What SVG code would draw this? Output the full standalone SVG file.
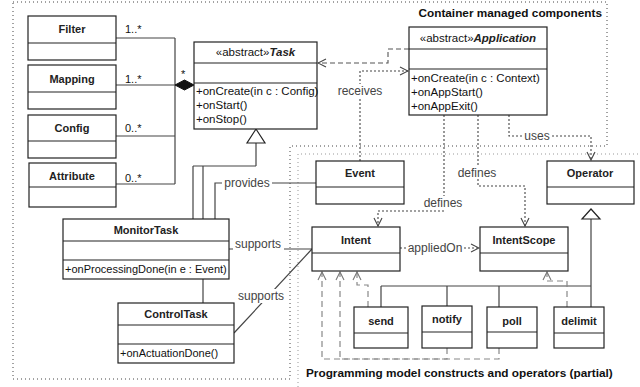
<svg xmlns="http://www.w3.org/2000/svg" width="640" height="387" viewBox="0 0 640 387">
<defs>
<style>
.box{fill:#fff;stroke:#222;stroke-width:1.2}
.div{stroke:#222;stroke-width:1.2}
.cn{font-family:"Liberation Sans",Arial,sans-serif;font-size:11px;font-weight:bold;fill:#222;text-anchor:middle}
.m{font-family:"Liberation Sans",Arial,sans-serif;font-size:11px;fill:#111}
.m2{font-family:"Liberation Sans",Arial,sans-serif;font-size:11.5px;fill:#111}
.lb{font-family:"Liberation Sans",Arial,sans-serif;font-size:12px;fill:#444;text-anchor:middle}
.ttl{font-family:"Liberation Sans",Arial,sans-serif;font-size:11.8px;font-weight:bold;fill:#111}
.ln{fill:none;stroke:#444;stroke-width:1.2}
.dash{fill:none;stroke:#555;stroke-width:1.1;stroke-dasharray:5,3}
.dot{fill:none;stroke:#444;stroke-width:1.1;stroke-dasharray:2,2}
.gdash{fill:none;stroke:#888;stroke-width:1.2;stroke-dasharray:6,4}
.bg{fill:#fff}
</style>
<marker id="open" markerWidth="10" markerHeight="10" refX="9" refY="5" orient="auto" markerUnits="userSpaceOnUse">
<path d="M1,1 L9,5 L1,9" fill="none" stroke="#444" stroke-width="1.1"/>
</marker>
<marker id="openg" markerWidth="10" markerHeight="10" refX="9" refY="5" orient="auto" markerUnits="userSpaceOnUse">
<path d="M1,1 L9,5 L1,9" fill="none" stroke="#777" stroke-width="1.1"/>
</marker>
</defs>
<rect width="640" height="387" fill="#fff"/>

<g id="containers">
<path d="M13,2 H607 V146 H290 V379 H13 Z" fill="none" stroke="#444" stroke-width="1" stroke-dasharray="1,3"/>
<path d="M298,387 V154 H638" fill="none" stroke="#999" stroke-width="1" stroke-dasharray="1,3"/>
<text class="ttl" x="602" y="17" text-anchor="end">Container managed components</text>
<text class="ttl" x="306" y="377">Programming model constructs and operators (partial)</text>
</g>

<g id="connectors">
<!-- composition -->
<path class="ln" d="M116,38 H175 M116,85 H175 M116,136 H175 M116,184 H175 M175,38 V184"/>
<path d="M175,85 L184.5,80 L194,85 L184.5,90 Z" fill="#111" stroke="#111"/>
<text class="m" x="125" y="33">1..*</text>
<text class="m" x="125" y="83">1..*</text>
<text class="m" x="125" y="132">0..*</text>
<text class="m" x="125" y="182">0..*</text>
<text class="m" x="181" y="78">*</text>
<!-- generalization to Task -->
<path class="ln" d="M256,143 V166 M193,166 H256 M193,166 V219 M203,166 V304"/>
<path d="M256,129 L247,143 L265,143 Z" fill="#fff" stroke="#222" stroke-width="1.2"/>
<!-- provides -->
<path class="ln" d="M215,219 V183 H316"/>
<rect class="bg" x="222" y="176" width="50" height="13"/>
<text class="lb" x="247" y="187">provides</text>
<!-- supports -->
<path class="ln" d="M229,249 H312"/>
<rect class="bg" x="233" y="237" width="51" height="14"/>
<text class="lb" x="258" y="248">supports</text>
<path class="ln" d="M234,333 L312,249"/>
<rect class="bg" x="236" y="289" width="50" height="14"/>
<text class="lb" x="261" y="300">supports</text>
<!-- Application -> Task -->
<path class="dash" d="M409,49 H388 V63 H318" marker-end="url(#open)"/>
<!-- receives -->
<path class="dot" d="M360,161 V71 H408" marker-end="url(#open)"/>
<rect class="bg" x="336" y="84" width="48" height="14"/>
<text class="lb" x="360" y="95">receives</text>
<!-- defines (Intent) -->
<path class="dot" d="M444,115 V211 H378 V226" marker-end="url(#open)"/>
<rect class="bg" x="422" y="196" width="43" height="13"/>
<text class="lb" x="443" y="207">defines</text>
<!-- defines (IntentScope) -->
<path class="dot" d="M478,115 V186 H525 V226" marker-end="url(#open)"/>
<rect class="bg" x="456" y="166" width="43" height="13"/>
<text class="lb" x="477" y="177">defines</text>
<!-- uses -->
<path class="dot" d="M509,115 V136 H591 V160" marker-end="url(#open)"/>
<rect class="bg" x="522" y="130" width="30" height="13"/>
<text class="lb" x="537" y="140">uses</text>
<!-- appliedOn -->
<path class="dot" d="M400,248 H479" marker-end="url(#open)"/>
<rect class="bg" x="406" y="241" width="58" height="13"/>
<text class="lb" x="435" y="252">appliedOn</text>
<!-- Operator generalization -->
<path class="ln" d="M591,219 V307 M381,286 H591 M381,286 V307 M447,286 V306 M499,286 V307"/>
<path d="M591,209 L582,219 L600,219 Z" fill="#fff" stroke="#222" stroke-width="1.2"/>
<!-- realizations to Intent / IntentScope -->
<path class="gdash" d="M368,307 V285 H357 V272" marker-end="url(#openg)"/>
<path class="gdash" d="M447,348 V359 H340 V272" marker-end="url(#openg)"/>
<path class="gdash" d="M499,348 V359 H322 V272" marker-end="url(#openg)"/>
<path class="gdash" d="M567,307 V281 H547 V272" marker-end="url(#openg)"/>
</g>

<g id="Filter"><rect class="box" x="28" y="16" width="88" height="44"/><line class="div" x1="28" y1="43" x2="116" y2="43"/><text class="cn" x="72" y="33">Filter</text></g>
<g id="Mapping"><rect class="box" x="28" y="65" width="88" height="44"/><line class="div" x1="28" y1="92" x2="116" y2="92"/><text class="cn" x="72" y="83">Mapping</text></g>
<g id="Config"><rect class="box" x="28" y="115" width="88" height="43"/><line class="div" x1="28" y1="141" x2="116" y2="141"/><text class="cn" x="72" y="132">Config</text></g>
<g id="Attribute"><rect class="box" x="29" y="163" width="87" height="44"/><line class="div" x1="29" y1="187" x2="116" y2="187"/><text class="cn" x="72" y="180">Attribute</text></g>

<g id="Task"><rect class="box" x="194" y="42" width="123" height="87"/><line class="div" x1="194" y1="63" x2="317" y2="63"/><line class="div" x1="194" y1="83" x2="317" y2="83"/>
<text class="m2" x="255.5" y="56" text-anchor="middle" fill="#444">«abstract»<tspan font-weight="bold" font-style="italic" fill="#222">Task</tspan></text>
<text class="m2" x="196" y="95">+onCreate(in c : Config)</text>
<text class="m2" x="196" y="109">+onStart()</text>
<text class="m2" x="196" y="123">+onStop()</text></g>

<g id="Application"><rect class="box" x="409" y="27" width="138" height="88"/><line class="div" x1="409" y1="49" x2="547" y2="49"/><line class="div" x1="409" y1="69" x2="547" y2="69"/>
<text class="m2" x="478" y="42" text-anchor="middle" fill="#444">«abstract»<tspan font-weight="bold" font-style="italic" fill="#222">Application</tspan></text>
<text class="m2" x="411" y="82">+onCreate(in c : Context)</text>
<text class="m2" x="411" y="96">+onAppStart()</text>
<text class="m2" x="411" y="110">+onAppExit()</text></g>

<g id="Event"><rect class="box" x="316" y="161" width="88" height="43"/><line class="div" x1="316" y1="187" x2="404" y2="187"/><text class="cn" x="360" y="177">Event</text></g>
<g id="Operator"><rect class="box" x="547" y="161" width="87" height="43"/><line class="div" x1="547" y1="187" x2="634" y2="187"/><text class="cn" x="590" y="177">Operator</text></g>
<g id="Intent"><rect class="box" x="312" y="227" width="88" height="44"/><line class="div" x1="312" y1="253" x2="400" y2="253"/><text class="cn" x="356" y="244">Intent</text></g>
<g id="IntentScope"><rect class="box" x="480" y="227" width="88" height="44"/><line class="div" x1="480" y1="253" x2="568" y2="253"/><text class="cn" x="524" y="244">IntentScope</text></g>

<g id="MonitorTask"><rect class="box" x="63" y="219" width="166" height="60"/><line class="div" x1="63" y1="241" x2="229" y2="241"/><line class="div" x1="63" y1="260" x2="229" y2="260"/>
<text class="cn" x="146" y="234">MonitorTask</text>
<text class="m" x="65" y="273">+onProcessingDone(in e : Event)</text></g>
<g id="ControlTask"><rect class="box" x="118" y="303" width="116" height="60"/><line class="div" x1="118" y1="325" x2="234" y2="325"/><line class="div" x1="118" y1="344" x2="234" y2="344"/>
<text class="cn" x="176" y="318">ControlTask</text>
<text class="m" x="120" y="357">+onActuationDone()</text></g>

<g id="send"><rect class="box" x="354" y="307" width="54" height="41"/><line class="div" x1="354" y1="333" x2="408" y2="333"/><text class="cn" x="381" y="325">send</text></g>
<g id="notify"><rect class="box" x="422" y="306" width="50" height="42"/><line class="div" x1="422" y1="332" x2="472" y2="332"/><text class="cn" x="447" y="323">notify</text></g>
<g id="poll"><rect class="box" x="487" y="307" width="50" height="41"/><line class="div" x1="487" y1="332" x2="537" y2="332"/><text class="cn" x="512" y="325">poll</text></g>
<g id="delimit"><rect class="box" x="554" y="307" width="50" height="41"/><line class="div" x1="554" y1="333" x2="604" y2="333"/><text class="cn" x="579" y="325">delimit</text></g>
</svg>
